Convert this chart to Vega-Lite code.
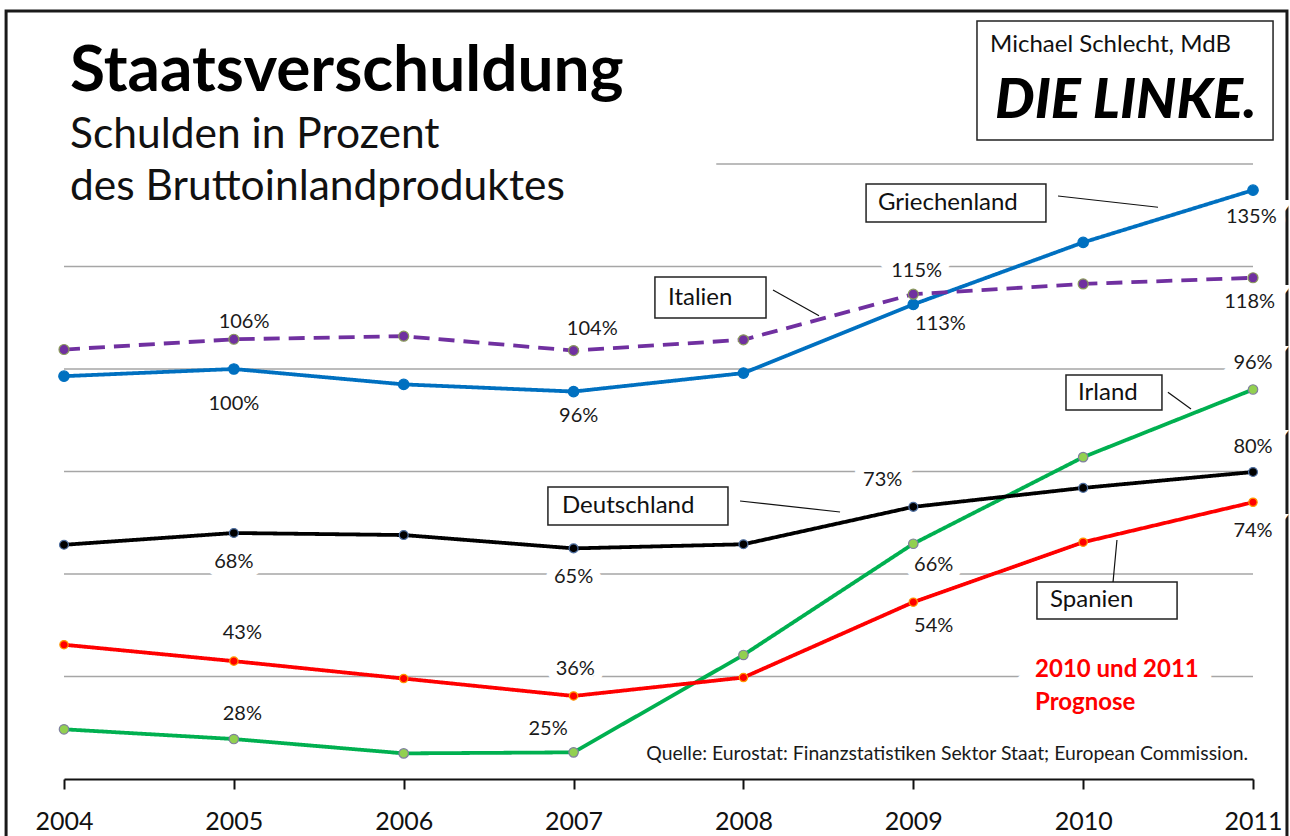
{
  "$schema": "https://vega.github.io/schema/vega-lite/v6.json",
  "width": 1189,
  "height": 615,
  "autosize": "none",
  "padding": {"left": 64, "top": 164, "right": 37, "bottom": 57},
  "background": "white",
  "config": {"view": {"stroke": null}, "font": "Lato", "text": {"font": "Lato"}},
  "title": {
    "text": "Staatsverschuldung",
    "subtitle": ["Schulden in Prozent", "des Bruttoinlandproduktes"],
    "anchor": "start",
    "frame": "group",
    "orient": "top",
    "font": "Lato",
    "fontSize": 64,
    "fontWeight": "bold",
    "color": "#000000",
    "subtitleFont": "Lato",
    "subtitleFontSize": 42.5,
    "subtitleColor": "#111111",
    "subtitleLineHeight": 52,
    "subtitlePadding": 10,
    "offset": -199,
    "dx": 6
  },
  "datasets": {
    "series": [
      {"country": "Griechenland", "year": 2004, "pct": 98.6},
      {"country": "Griechenland", "year": 2005, "pct": 100.0},
      {"country": "Griechenland", "year": 2006, "pct": 97.0},
      {"country": "Griechenland", "year": 2007, "pct": 95.6},
      {"country": "Griechenland", "year": 2008, "pct": 99.2},
      {"country": "Griechenland", "year": 2009, "pct": 112.6},
      {"country": "Griechenland", "year": 2010, "pct": 124.7},
      {"country": "Griechenland", "year": 2011, "pct": 134.9},
      {"country": "Italien", "year": 2004, "pct": 103.8},
      {"country": "Italien", "year": 2005, "pct": 105.8},
      {"country": "Italien", "year": 2006, "pct": 106.4},
      {"country": "Italien", "year": 2007, "pct": 103.6},
      {"country": "Italien", "year": 2008, "pct": 105.7},
      {"country": "Italien", "year": 2009, "pct": 114.6},
      {"country": "Italien", "year": 2010, "pct": 116.6},
      {"country": "Italien", "year": 2011, "pct": 117.8},
      {"country": "Irland", "year": 2004, "pct": 29.7},
      {"country": "Irland", "year": 2005, "pct": 27.8},
      {"country": "Irland", "year": 2006, "pct": 25.0},
      {"country": "Irland", "year": 2007, "pct": 25.2},
      {"country": "Irland", "year": 2008, "pct": 44.2},
      {"country": "Irland", "year": 2009, "pct": 65.9},
      {"country": "Irland", "year": 2010, "pct": 82.8},
      {"country": "Irland", "year": 2011, "pct": 96.0},
      {"country": "Deutschland", "year": 2004, "pct": 65.7},
      {"country": "Deutschland", "year": 2005, "pct": 68.0},
      {"country": "Deutschland", "year": 2006, "pct": 67.6},
      {"country": "Deutschland", "year": 2007, "pct": 65.0},
      {"country": "Deutschland", "year": 2008, "pct": 65.8},
      {"country": "Deutschland", "year": 2009, "pct": 73.1},
      {"country": "Deutschland", "year": 2010, "pct": 76.8},
      {"country": "Deutschland", "year": 2011, "pct": 79.9},
      {"country": "Spanien", "year": 2004, "pct": 46.2},
      {"country": "Spanien", "year": 2005, "pct": 43.0},
      {"country": "Spanien", "year": 2006, "pct": 39.6},
      {"country": "Spanien", "year": 2007, "pct": 36.2},
      {"country": "Spanien", "year": 2008, "pct": 39.8},
      {"country": "Spanien", "year": 2009, "pct": 54.5},
      {"country": "Spanien", "year": 2010, "pct": 66.2},
      {"country": "Spanien", "year": 2011, "pct": 74.0}
    ],
    "labels": [
      {"x": 2005.0, "y": 93.2, "t": "100%"},
      {"x": 2007.03, "y": 90.8, "t": "96%"},
      {"x": 2009.16, "y": 108.8, "t": "113%"},
      {"x": 2010.99, "y": 129.7, "t": "135%"},
      {"x": 2005.06, "y": 109.2, "t": "106%"},
      {"x": 2007.11, "y": 107.8, "t": "104%"},
      {"x": 2009.02, "y": 119.1, "t": "115%"},
      {"x": 2010.98, "y": 113.1, "t": "118%"},
      {"x": 2005.05, "y": 32.7, "t": "28%"},
      {"x": 2006.85, "y": 29.8, "t": "25%"},
      {"x": 2009.12, "y": 61.8, "t": "66%"},
      {"x": 2011.0, "y": 101.2, "t": "96%"},
      {"x": 2005.0, "y": 62.3, "t": "68%"},
      {"x": 2007.0, "y": 59.4, "t": "65%"},
      {"x": 2008.82, "y": 78.3, "t": "73%"},
      {"x": 2011.0, "y": 84.8, "t": "80%"},
      {"x": 2005.05, "y": 48.5, "t": "43%"},
      {"x": 2007.01, "y": 41.5, "t": "36%"},
      {"x": 2009.12, "y": 49.9, "t": "54%"},
      {"x": 2011.0, "y": 68.4, "t": "74%"}
    ],
    "grid": [
      {"y": 40, "x": 2004, "x2": 2011},
      {"y": 60, "x": 2004, "x2": 2011},
      {"y": 80, "x": 2004, "x2": 2011},
      {"y": 100, "x": 2004, "x2": 2011},
      {"y": 120, "x": 2004, "x2": 2011},
      {"y": 140, "x": 2007.84, "x2": 2011}
    ],
    "boxes": [
      {"name": "Griechenland", "x": 2008.722, "x2": 2009.781, "y": 136.1, "y2": 128.68, "tx": 2008.792, "ty": 132.39},
      {"name": "Italien", "x": 2007.479, "x2": 2008.133, "y": 117.95, "y2": 109.95, "tx": 2007.556, "ty": 113.95},
      {"name": "Irland", "x": 2009.899, "x2": 2010.464, "y": 98.83, "y2": 92.0, "tx": 2009.97, "ty": 95.41},
      {"name": "Deutschland", "x": 2006.849, "x2": 2007.909, "y": 76.98, "y2": 69.56, "tx": 2006.932, "ty": 73.27},
      {"name": "Spanien", "x": 2009.728, "x2": 2010.553, "y": 58.44, "y2": 51.22, "tx": 2009.805, "ty": 54.83}
    ],
    "leaders": [
      {"x": 2009.852, "y": 133.76, "x2": 2010.441, "y2": 131.56},
      {"x": 2008.174, "y": 115.41, "x2": 2008.445, "y2": 110.4},
      {"x": 2010.499, "y": 95.45, "x2": 2010.635, "y2": 92.2},
      {"x": 2007.98, "y": 74.24, "x2": 2008.569, "y2": 72.1},
      {"x": 2010.199, "y": 66.63, "x2": 2010.176, "y2": 58.44}
    ],
    "frame": [
      {"x": 2003.659, "x2": 2011.2, "y": 169.85, "y2": 7.1}
    ],
    "logo": [
      {"x": 2009.375, "x2": 2011.118, "y": 167.9, "y2": 144.68}
    ],
    "logotext": [
      {"x": 2009.452, "y": 161.85, "t": "Michael Schlecht, MdB", "kind": "name"},
      {"x": 2009.481, "y": 148.98, "t": "DIE LINKE.", "kind": "party"}
    ],
    "prognose": [
      {"x": 2009.717, "y": 41.27, "t": "2010 und 2011"},
      {"x": 2009.717, "y": 34.83, "t": "Prognose"}
    ],
    "source": [
      {"x": 2010.971, "y": 24.9, "t": "Quelle: Eurostat: Finanzstatistiken Sektor Staat; European Commission."}
    ]
  },
  "layer": [
    {
      "data": {"name": "frame"},
      "mark": {"type": "rect", "fill": "white", "fillOpacity": 0, "stroke": "#1a1a1a", "strokeWidth": 3},
      "encoding": {
        "x": {
          "field": "x", "type": "quantitative",
          "scale": {"domain": [2004, 2011], "nice": false, "zero": false},
          "axis": {
            "values": [2004, 2005, 2006, 2007, 2008, 2009, 2010, 2011],
            "format": "d", "title": null, "grid": false,
            "labelFont": "Lato", "labelFontSize": 25, "labelColor": "#111111",
            "labelPadding": 20, "labelFlush": false, "labelOverlap": false,
            "domainColor": "#111111", "domainWidth": 2,
            "tickColor": "#111111", "tickWidth": 2, "tickSize": 10
          }
        },
        "x2": {"field": "x2"},
        "y": {"field": "y", "type": "quantitative", "scale": {"domain": [20, 140], "nice": false, "zero": false}, "axis": null},
        "y2": {"field": "y2"}
      }
    },
    {
      "data": {"name": "grid"},
      "mark": {"type": "rule", "color": "#a6a6a6", "strokeWidth": 1.3},
      "encoding": {
        "x": {"field": "x", "type": "quantitative", "scale": {"domain": [2004, 2011], "nice": false, "zero": false}},
        "x2": {"field": "x2"},
        "y": {"field": "y", "type": "quantitative", "scale": {"domain": [20, 140], "nice": false, "zero": false}, "axis": null}
      }
    },
    {
      "data": {"name": "logo"},
      "mark": {"type": "rect", "fill": "white", "stroke": "#222222", "strokeWidth": 1.5},
      "encoding": {
        "x": {"field": "x", "type": "quantitative", "scale": {"domain": [2004, 2011], "nice": false, "zero": false}},
        "x2": {"field": "x2"},
        "y": {"field": "y", "type": "quantitative", "scale": {"domain": [20, 140], "nice": false, "zero": false}, "axis": null},
        "y2": {"field": "y2"}
      }
    },
    {
      "data": {"name": "logotext"},
      "transform": [{"filter": "datum.kind === 'name'"}],
      "mark": {"type": "text", "align": "left", "baseline": "alphabetic", "fontSize": 24, "color": "#111111"},
      "encoding": {
        "x": {"field": "x", "type": "quantitative", "scale": {"domain": [2004, 2011], "nice": false, "zero": false}},
        "y": {"field": "y", "type": "quantitative", "scale": {"domain": [20, 140], "nice": false, "zero": false}, "axis": null},
        "text": {"field": "t"}
      }
    },
    {
      "data": {"name": "logotext"},
      "transform": [{"filter": "datum.kind === 'party'"}],
      "mark": {"type": "text", "align": "left", "baseline": "alphabetic", "fontSize": 56, "fontWeight": 900, "fontStyle": "italic", "color": "#000000"},
      "encoding": {
        "x": {"field": "x", "type": "quantitative", "scale": {"domain": [2004, 2011], "nice": false, "zero": false}},
        "y": {"field": "y", "type": "quantitative", "scale": {"domain": [20, 140], "nice": false, "zero": false}, "axis": null},
        "text": {"field": "t"}
      }
    },
    {
      "data": {"name": "boxes"},
      "mark": {"type": "rect", "fill": "white", "stroke": "#222222", "strokeWidth": 1.5},
      "encoding": {
        "x": {"field": "x", "type": "quantitative", "scale": {"domain": [2004, 2011], "nice": false, "zero": false}},
        "x2": {"field": "x2"},
        "y": {"field": "y", "type": "quantitative", "scale": {"domain": [20, 140], "nice": false, "zero": false}, "axis": null},
        "y2": {"field": "y2"}
      }
    },
    {
      "data": {"name": "boxes"},
      "mark": {"type": "text", "align": "left", "baseline": "middle", "fontSize": 24, "color": "#111111"},
      "encoding": {
        "x": {"field": "tx", "type": "quantitative", "scale": {"domain": [2004, 2011], "nice": false, "zero": false}},
        "y": {"field": "ty", "type": "quantitative", "scale": {"domain": [20, 140], "nice": false, "zero": false}, "axis": null},
        "text": {"field": "name"}
      }
    },
    {
      "data": {"name": "leaders"},
      "mark": {"type": "rule", "color": "#111111", "strokeWidth": 1.2},
      "encoding": {
        "x": {"field": "x", "type": "quantitative", "scale": {"domain": [2004, 2011], "nice": false, "zero": false}},
        "x2": {"field": "x2"},
        "y": {"field": "y", "type": "quantitative", "scale": {"domain": [20, 140], "nice": false, "zero": false}, "axis": null},
        "y2": {"field": "y2"}
      }
    },
    {
      "data": {"name": "labels"},
      "mark": {"type": "text", "align": "center", "baseline": "middle", "fontSize": 20, "color": "white", "stroke": "white", "strokeWidth": 18},
      "encoding": {
        "x": {"field": "x", "type": "quantitative", "scale": {"domain": [2004, 2011], "nice": false, "zero": false}},
        "y": {"field": "y", "type": "quantitative", "scale": {"domain": [20, 140], "nice": false, "zero": false}, "axis": null},
        "text": {"field": "t"}
      }
    },
    {
      "data": {"name": "prognose"},
      "mark": {"type": "text", "align": "left", "baseline": "middle", "fontSize": 24, "fontWeight": "bold", "color": "white", "stroke": "white", "strokeWidth": 28},
      "encoding": {
        "x": {"field": "x", "type": "quantitative", "scale": {"domain": [2004, 2011], "nice": false, "zero": false}},
        "y": {"field": "y", "type": "quantitative", "scale": {"domain": [20, 140], "nice": false, "zero": false}, "axis": null},
        "text": {"field": "t"}
      }
    },
    {
      "data": {"name": "series"},
      "mark": {"type": "line", "strokeWidth": 3.8},
      "encoding": {
        "x": {"field": "year", "type": "quantitative", "scale": {"domain": [2004, 2011], "nice": false, "zero": false}},
        "y": {"field": "pct", "type": "quantitative", "scale": {"domain": [20, 140], "nice": false, "zero": false}, "axis": null},
        "color": {
          "field": "country", "type": "nominal", "legend": null,
          "scale": {"domain": ["Griechenland", "Italien", "Irland", "Deutschland", "Spanien"], "range": ["#0070C0", "#7030A0", "#00B050", "#000000", "#FF0000"]}
        },
        "strokeDash": {
          "field": "country", "type": "nominal", "legend": null,
          "scale": {"domain": ["Griechenland", "Italien", "Irland", "Deutschland", "Spanien"], "range": [[1, 0], [16, 9], [1, 0], [1, 0], [1, 0]]}
        },
        "order": {"field": "year", "type": "quantitative"}
      }
    },
    {
      "data": {"name": "series"},
      "mark": {"type": "point", "filled": true, "strokeWidth": 1.2, "opacity": 1},
      "encoding": {
        "x": {"field": "year", "type": "quantitative", "scale": {"domain": [2004, 2011], "nice": false, "zero": false}},
        "y": {"field": "pct", "type": "quantitative", "scale": {"domain": [20, 140], "nice": false, "zero": false}, "axis": null},
        "fill": {
          "field": "country", "type": "nominal", "legend": null,
          "scale": {"domain": ["Griechenland", "Italien", "Irland", "Deutschland", "Spanien"], "range": ["#0070C0", "#7030A0", "#92D050", "#000000", "#FF0000"]}
        },
        "stroke": {
          "field": "country", "type": "nominal", "legend": null,
          "scale": {"domain": ["Griechenland", "Italien", "Irland", "Deutschland", "Spanien"], "range": ["#0070C0", "#8A9A5B", "#7F7F9F", "#4F6FA0", "#FF9900"]}
        },
        "size": {
          "field": "country", "type": "nominal", "legend": null,
          "scale": {"domain": ["Griechenland", "Italien", "Irland", "Deutschland", "Spanien"], "range": [110, 70, 70, 70, 70]}
        }
      }
    },
    {
      "data": {"name": "labels"},
      "mark": {"type": "text", "align": "center", "baseline": "middle", "fontSize": 20, "color": "#1a1a1a"},
      "encoding": {
        "x": {"field": "x", "type": "quantitative", "scale": {"domain": [2004, 2011], "nice": false, "zero": false}},
        "y": {"field": "y", "type": "quantitative", "scale": {"domain": [20, 140], "nice": false, "zero": false}, "axis": null},
        "text": {"field": "t"}
      }
    },
    {
      "data": {"name": "prognose"},
      "mark": {"type": "text", "align": "left", "baseline": "middle", "fontSize": 24, "fontWeight": "bold", "color": "#FF0000"},
      "encoding": {
        "x": {"field": "x", "type": "quantitative", "scale": {"domain": [2004, 2011], "nice": false, "zero": false}},
        "y": {"field": "y", "type": "quantitative", "scale": {"domain": [20, 140], "nice": false, "zero": false}, "axis": null},
        "text": {"field": "t"}
      }
    },
    {
      "data": {"name": "source"},
      "mark": {"type": "text", "align": "right", "baseline": "middle", "fontSize": 19.4, "color": "#1a1a1a"},
      "encoding": {
        "x": {"field": "x", "type": "quantitative", "scale": {"domain": [2004, 2011], "nice": false, "zero": false}},
        "y": {"field": "y", "type": "quantitative", "scale": {"domain": [20, 140], "nice": false, "zero": false}, "axis": null},
        "text": {"field": "t"}
      }
    }
  ]
}
